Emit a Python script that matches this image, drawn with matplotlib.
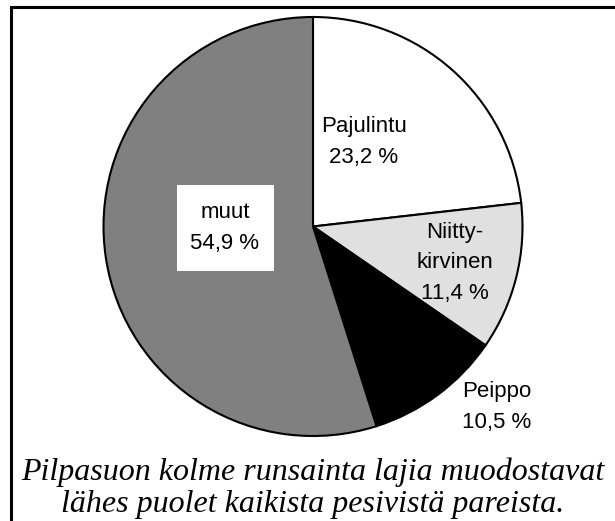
import matplotlib.pyplot as plt
from matplotlib.patches import Rectangle

labels = ["Pajulintu", "Niitty-\nkirvinen", "Peippo", "muut"]
shares = [23.2, 11.4, 10.5, 54.9]
colors = ["#ffffff", "#e0e0e0", "#000000", "#808080"]
caption = "Pilpasuon kolme runsainta lajia muodostavat\nlähes puolet kaikista pesivistä pareista."

W, H = 615, 521

fig = plt.figure(figsize=(W / 100, H / 100), dpi=100)
ax = fig.add_axes([0, 0, 1, 1])
ax.set_xlim(0, W)
ax.set_ylim(0, H)
ax.axis("off")

# pie in pixel coordinates (y measured from bottom)
cx, cy, r = 313, H - 226.5, 209.5
ax.pie(shares, colors=colors, startangle=90, counterclock=False,
       center=(cx, cy), radius=r,
       wedgeprops=dict(edgecolor="black", linewidth=1.5))
ax.set_xlim(0, W)
ax.set_ylim(0, H)
ax.set_aspect("auto")

def pct(v):
    return f"{v:.1f}".replace(".", ",") + " %"

font = dict(family="Liberation Sans", fontsize=16, ha="center", va="center",
            linespacing=1.6)

ax.text(364, H - 142, f"{labels[0]}\n{pct(shares[0])}", **font)
ax.text(455, H - 263, f"{labels[1]}\n{pct(shares[1])}", **font)
ax.text(497, H - 407, f"{labels[2]}\n{pct(shares[2])}", **font)
ax.add_patch(Rectangle((177, H - 271), 97, 86, facecolor="white", edgecolor="none", zorder=3))
ax.text(225, H - 228, f"{labels[3]}\n{pct(shares[3])}", zorder=4, **font)

ax.text(313, H - 488, caption, family="Liberation Serif", style="italic",
        fontsize=23, ha="center", va="center", linespacing=1.13)

# frame
ax.add_patch(Rectangle((10.5, -20), 620, H - 7 + 20, facecolor="none",
                       edgecolor="black", linewidth=2.2, clip_on=False))

fig.savefig("out.png", dpi=100)
